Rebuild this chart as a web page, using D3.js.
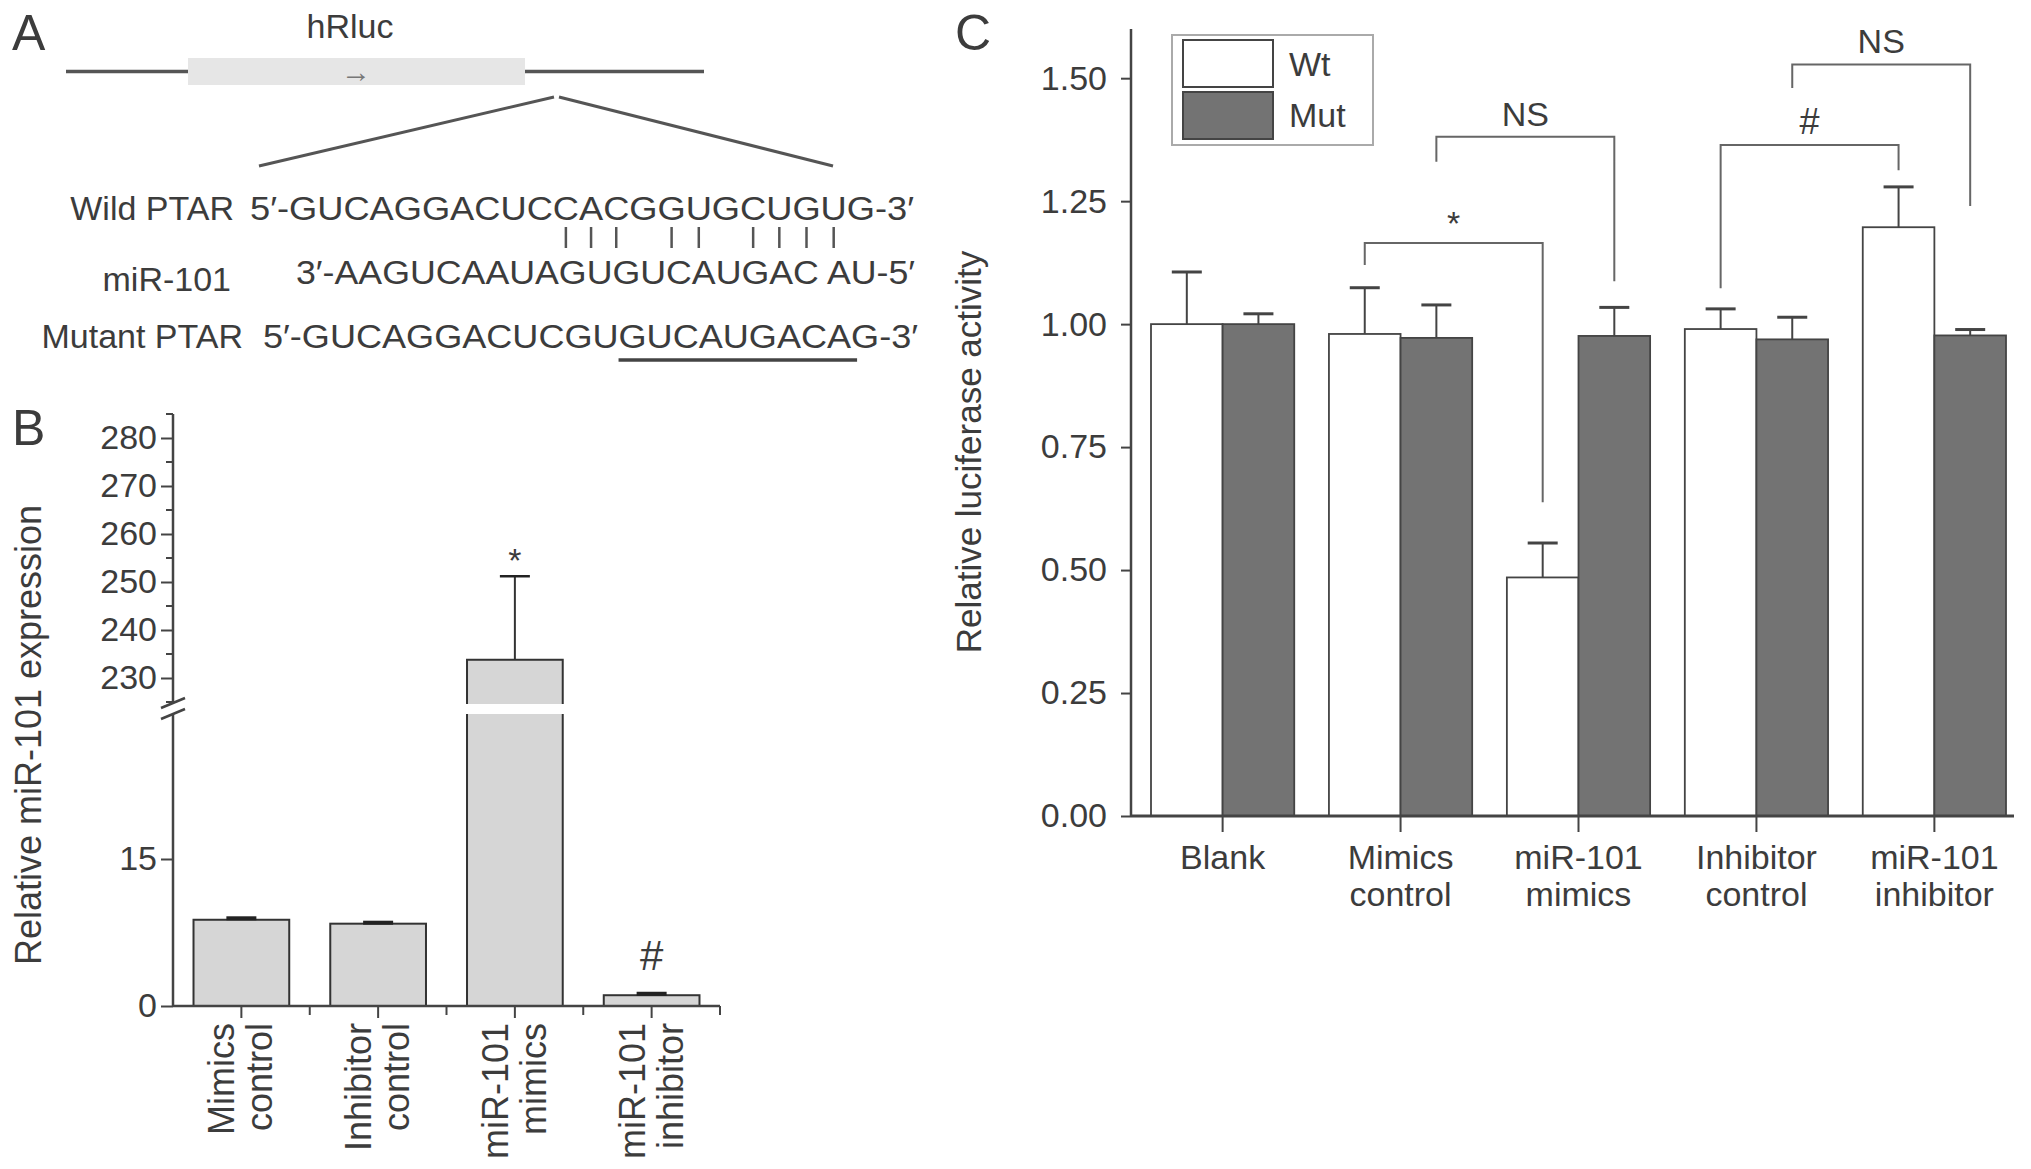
<!DOCTYPE html>
<html>
<head>
<meta charset="utf-8">
<script src="https://cdn.jsdelivr.net/npm/d3@7"></script>
<style>
  body { margin: 0; background: #fff; }
  text { font-family: "Liberation Sans", Arial, sans-serif; fill: #3c3c3c; }
</style>
</head>
<body>
<div id="fig"></div>
<script>
// ---- panel A: sequences
var seqLabels = ["Wild PTAR", "miR-101", "Mutant PTAR"];
var seqTexts = ["5′-GUCAGGACUCCACGGUGCUGUG-3′", "3′-AAGUCAAUAGUGUCAUGAC AU-5′", "5′-GUCAGGACUCGUGUCAUGACAG-3′"];
var pairIdx = [13, 14, 15, 17, 18, 20, 21, 22, 23];
var mutUnderline = [15, 24];

// ---- panel B
var bGroups = [["Mimics", "control"], ["Inhibitor", "control"], ["miR-101", "mimics"], ["miR-101", "inhibitor"]];
var bMeans = [8.8, 8.4, 233.8, 1.1];
var bErrors = [0.15, 0.1, 17.4, 0.15];
var bMarks = ["", "", "*", "#"];
var bLowTicks = [0, 15];
var bHighTicks = [230, 240, 250, 260, 270, 280];
var bHighMinor = [225, 235, 245, 255, 265, 275, 285];

// ---- panel C
var cGroups = [["Blank"], ["Mimics", "control"], ["miR-101", "mimics"], ["Inhibitor", "control"], ["miR-101", "inhibitor"]];
var cSeries = ["Wt", "Mut"];
var cWt = [1.00, 0.98, 0.485, 0.99, 1.197];
var cWtErr = [0.106, 0.094, 0.07, 0.041, 0.082];
var cMut = [1.00, 0.972, 0.976, 0.969, 0.977];
var cMutErr = [0.021, 0.067, 0.058, 0.045, 0.012];
var cTicks = [0, 0.25, 0.5, 0.75, 1.0, 1.25, 1.5];
// bracket: [group, series] of each leg, y of bar, y of left leg end, y of right leg end
var cBrackets = [
  {a: [1, "Wt"], b: [2, "Wt"], top: 1.165, left: 1.12, right: 0.638, label: "*"},
  {a: [1, "Mut"], b: [2, "Mut"], top: 1.381, left: 1.33, right: 1.087, label: "NS"},
  {a: [3, "Wt"], b: [4, "Wt"], top: 1.364, left: 1.073, right: 1.313, label: "#"},
  {a: [3, "Mut"], b: [4, "Mut"], top: 1.528, left: 1.48, right: 1.24, label: "NS"}
];

var svg = d3.select("#fig").append("svg")
  .attr("width", 2031)
  .attr("height", 1169);

var ink = "#444";

// panel letters
svg.append("text").attr("x", 12).attr("y", 50).attr("font-size", 50).text("A");
svg.append("text").attr("x", 12).attr("y", 445).attr("font-size", 50).text("B");
svg.append("text").attr("x", 955).attr("y", 50).attr("font-size", 50).text("C");

// ================= A =================
var gA = svg.append("g");
gA.append("text").attr("x", 350).attr("y", 38).attr("font-size", 34)
  .attr("text-anchor", "middle").text("hRluc");
gA.append("line").attr("x1", 66).attr("x2", 704).attr("y1", 71.5).attr("y2", 71.5)
  .attr("stroke", "#555").attr("stroke-width", 3.5);
gA.append("rect").attr("x", 188).attr("y", 58).attr("width", 337).attr("height", 27)
  .attr("fill", "#e6e6e6");
gA.append("text").attr("x", 356).attr("y", 82).attr("font-size", 30)
  .attr("text-anchor", "middle").style("fill", "#777").text("→");
gA.append("line").attr("x1", 554).attr("y1", 97).attr("x2", 259).attr("y2", 166)
  .attr("stroke", "#555").attr("stroke-width", 3);
gA.append("line").attr("x1", 559).attr("y1", 97).attr("x2", 833).attr("y2", 166)
  .attr("stroke", "#555").attr("stroke-width", 3);

var labelX = [234, 231, 243];
var labelY = [220, 291, 348];
var seqX = [250, 296, 263];
var seqW = [664, 619, 655];
var seqY = [220, 284, 348];

var seqNodes = [];
seqTexts.forEach(function(s, i) {
  gA.append("text").attr("x", labelX[i]).attr("y", labelY[i]).attr("font-size", 34)
    .attr("text-anchor", "end").text(seqLabels[i]);
  var t = gA.append("text").attr("x", seqX[i]).attr("y", seqY[i]).attr("font-size", 34)
    .attr("textLength", seqW[i]).attr("lengthAdjust", "spacingAndGlyphs")
    .style("white-space", "pre").text(s);
  seqNodes.push(t.node());
});

pairIdx.forEach(function(ci) {
  var n = seqNodes[0];
  var st = n.getStartPositionOfChar(ci).x;
  var en = n.getEndPositionOfChar(ci).x;
  var cx = (st + en) / 2;
  gA.append("line").attr("x1", cx).attr("x2", cx).attr("y1", 227).attr("y2", 248)
    .attr("stroke", "#555").attr("stroke-width", 2.5);
});

var mu0 = seqNodes[2].getStartPositionOfChar(mutUnderline[0]).x;
var mu1 = seqNodes[2].getStartPositionOfChar(mutUnderline[1]).x + 6;
gA.append("line").attr("x1", mu0).attr("x2", mu1).attr("y1", 360).attr("y2", 360)
  .attr("stroke", "#444").attr("stroke-width", 3.5);

// ================= B =================
var gB = svg.append("g");
var xB = d3.scaleBand().domain(d3.range(bGroups.length)).range([173, 720])
  .paddingInner(0.3).paddingOuter(0.15);
var yHigh = d3.scaleLinear().domain([225, 285]).range([702, 414]);
var yLow = d3.scaleLinear().domain([0, 30]).range([1006, 712]);

function yB(v) { return v > 30 ? yHigh(v) : yLow(v); }

// bars
gB.selectAll("rect.bar").data(bMeans).enter().append("rect")
  .attr("class", "bar")
  .attr("x", (d, i) => xB(i))
  .attr("width", xB.bandwidth())
  .attr("y", d => yB(d))
  .attr("height", d => 1006 - yB(d))
  .attr("fill", "#d6d6d6")
  .attr("stroke", "#333")
  .attr("stroke-width", 2);

// white gap through the broken bar
bMeans.forEach(function(d, i) {
  if (d > 30) {
    gB.append("rect").attr("x", xB(i) - 3).attr("width", xB.bandwidth() + 6)
      .attr("y", yHigh(225) + 2).attr("height", 10).attr("fill", "#fff");
  }
});

// error bars
bMeans.forEach(function(d, i) {
  var cx = xB(i) + xB.bandwidth() / 2;
  var top = yB(d + bErrors[i]);
  var big = d > 30;
  if (big) {
    gB.append("line").attr("x1", cx).attr("x2", cx).attr("y1", yB(d)).attr("y2", top)
      .attr("stroke", "#333").attr("stroke-width", 2);
  }
  gB.append("line").attr("x1", cx - 15).attr("x2", cx + 15).attr("y1", top).attr("y2", top)
    .attr("stroke", "#222").attr("stroke-width", big ? 2.5 : 4);
  if (bMarks[i]) {
    var isHash = bMarks[i] === "#";
    gB.append("text").attr("x", cx).attr("y", top - (isHash ? 24 : 4))
      .attr("font-size", isHash ? 42 : 34).attr("text-anchor", "middle").text(bMarks[i]);
  }
});

// y axis (two segments)
var axHigh = gB.append("g").attr("transform", "translate(173,0)")
  .call(d3.axisLeft(yHigh).tickValues(bHighTicks).tickSize(12).tickPadding(4));
var axLow = gB.append("g").attr("transform", "translate(173,0)")
  .call(d3.axisLeft(yLow).tickValues(bLowTicks).tickSize(12).tickPadding(4));
[axHigh, axLow].forEach(function(ax) {
  ax.select(".domain").remove();
  ax.selectAll("line").attr("stroke", ink).attr("stroke-width", 2);
  ax.selectAll("text").attr("font-size", 34).attr("fill", "#3c3c3c")
    .style("font-family", "'Liberation Sans', Arial, sans-serif");
});
gB.selectAll("line.minor").data(bHighMinor).enter().append("line")
  .attr("class", "minor")
  .attr("x1", 166).attr("x2", 173)
  .attr("y1", d => yHigh(d)).attr("y2", d => yHigh(d))
  .attr("stroke", ink).attr("stroke-width", 2);
gB.append("line").attr("x1", 173).attr("x2", 173).attr("y1", yHigh(285)).attr("y2", yHigh(225) + 1)
  .attr("stroke", ink).attr("stroke-width", 2.5);
gB.append("line").attr("x1", 173).attr("x2", 173).attr("y1", yLow(30) + 2).attr("y2", 1006)
  .attr("stroke", ink).attr("stroke-width", 2.5);
// break marks
[yHigh(225) + 1, yLow(30) + 2].forEach(function(yy) {
  gB.append("line").attr("x1", 161).attr("x2", 185).attr("y1", yy + 5).attr("y2", yy - 5)
    .attr("stroke", ink).attr("stroke-width", 2.5);
});

// x axis
var axBx = gB.append("g").attr("transform", "translate(0,1006)")
  .call(d3.axisBottom(xB).tickSize(12).tickFormat(""));
axBx.select(".domain").remove();
axBx.selectAll("line").attr("stroke", ink).attr("stroke-width", 2);
gB.append("line").attr("x1", 173).attr("x2", 720).attr("y1", 1006).attr("y2", 1006)
  .attr("stroke", ink).attr("stroke-width", 2.5);
d3.range(1, bGroups.length + 1).forEach(function(i) {
  var px = 173 + xB.step() * i;
  gB.append("line").attr("x1", px).attr("x2", px).attr("y1", 1006).attr("y2", 1015)
    .attr("stroke", ink).attr("stroke-width", 2);
});

// x labels (rotated, two lines)
bGroups.forEach(function(lines, i) {
  var cx = xB(i) + xB.bandwidth() / 2;
  var g = gB.append("g").attr("transform", "translate(" + cx + ",1023) rotate(-90)");
  lines.forEach(function(l, j) {
    g.append("text").attr("x", 0).attr("y", -7 + j * 38).attr("font-size", 36)
      .attr("text-anchor", "end").text(l);
  });
});

// y label
gB.append("text").attr("transform", "translate(41,735) rotate(-90)")
  .attr("font-size", 36).attr("text-anchor", "middle").text("Relative miR-101 expression");

// ================= C =================
var gC = svg.append("g");
var xC = d3.scaleBand().domain(d3.range(cGroups.length)).range([1151, 2006]).paddingInner(0.195);
var xSub = d3.scaleBand().domain(cSeries).range([0, xC.bandwidth()]);
var yC = d3.scaleLinear().domain([0, 1.6]).range([816, 29]);

var cRows = cGroups.map(function(g, i) {
  return [
    {group: i, series: "Wt", value: cWt[i], err: cWtErr[i]},
    {group: i, series: "Mut", value: cMut[i], err: cMutErr[i]}
  ];
});
var cFlat = [].concat.apply([], cRows);

function cx(group, series) { return xC(group) + xSub(series) + xSub.bandwidth() / 2; }

// error bars first (stems behind bars top edge)
cFlat.forEach(function(d) {
  var x = cx(d.group, d.series);
  gC.append("line").attr("x1", x).attr("x2", x).attr("y1", yC(d.value)).attr("y2", yC(d.value + d.err))
    .attr("stroke", ink).attr("stroke-width", 2);
  gC.append("line").attr("x1", x - 15).attr("x2", x + 15)
    .attr("y1", yC(d.value + d.err)).attr("y2", yC(d.value + d.err))
    .attr("stroke", ink).attr("stroke-width", 3);
});

gC.selectAll("rect.cbar").data(cFlat).enter().append("rect")
  .attr("class", "cbar")
  .attr("x", d => xC(d.group) + xSub(d.series))
  .attr("width", xSub.bandwidth())
  .attr("y", d => yC(d.value))
  .attr("height", d => yC(0) - yC(d.value))
  .attr("fill", d => d.series === "Wt" ? "#fff" : "#737373")
  .attr("stroke", ink)
  .attr("stroke-width", 1.8);

// brackets
cBrackets.forEach(function(b) {
  var x1 = cx(b.a[0], b.a[1]);
  var x2 = cx(b.b[0], b.b[1]);
  gC.append("path")
    .attr("d", "M" + x1 + "," + yC(b.left) + "V" + yC(b.top) + "H" + x2 + "V" + yC(b.right))
    .attr("fill", "none").attr("stroke", "#666").attr("stroke-width", 2);
  gC.append("text").attr("x", (x1 + x2) / 2).attr("y", yC(b.top) - (b.label === "*" ? 8 : 11))
    .attr("font-size", b.label === "#" ? 36 : 34).attr("text-anchor", "middle").text(b.label);
});

// axes
var axCy = gC.append("g").attr("transform", "translate(1131,0)")
  .call(d3.axisLeft(yC).tickValues(cTicks).tickSize(10).tickPadding(14).tickFormat(d3.format(".2f")));
axCy.select(".domain").remove();
axCy.selectAll("line").attr("stroke", ink).attr("stroke-width", 2);
axCy.selectAll("text").attr("font-size", 34).attr("fill", "#3c3c3c")
  .style("font-family", "'Liberation Sans', Arial, sans-serif");
gC.append("line").attr("x1", 1131).attr("x2", 1131).attr("y1", yC(1.6)).attr("y2", yC(0))
  .attr("stroke", ink).attr("stroke-width", 2.5);

var axCx = gC.append("g").attr("transform", "translate(0,816)")
  .call(d3.axisBottom(xC).tickSize(16).tickFormat(""));
axCx.select(".domain").remove();
axCx.selectAll("line").attr("stroke", ink).attr("stroke-width", 2);
gC.append("line").attr("x1", 1131).attr("x2", 2014).attr("y1", 816).attr("y2", 816)
  .attr("stroke", ink).attr("stroke-width", 3);

cGroups.forEach(function(lines, i) {
  var x = xC(i) + xC.bandwidth() / 2;
  lines.forEach(function(l, j) {
    gC.append("text").attr("x", x).attr("y", 869 + j * 37).attr("font-size", 34)
      .attr("text-anchor", "middle").text(l);
  });
});

gC.append("text").attr("transform", "translate(981,452) rotate(-90)")
  .attr("font-size", 35).attr("text-anchor", "middle").text("Relative luciferase activity");

// legend
var leg = gC.append("g");
leg.append("rect").attr("x", 1172).attr("y", 35).attr("width", 201).attr("height", 110)
  .attr("fill", "#fff").attr("stroke", "#aaa").attr("stroke-width", 2);
cSeries.forEach(function(s, i) {
  leg.append("rect").attr("x", 1183).attr("y", 40 + i * 52).attr("width", 90).attr("height", 47)
    .attr("fill", s === "Wt" ? "#fff" : "#737373").attr("stroke", ink).attr("stroke-width", 2);
  leg.append("text").attr("x", 1289).attr("y", 76 + i * 51).attr("font-size", 34).text(s);
});
</script>
</body>
</html>
